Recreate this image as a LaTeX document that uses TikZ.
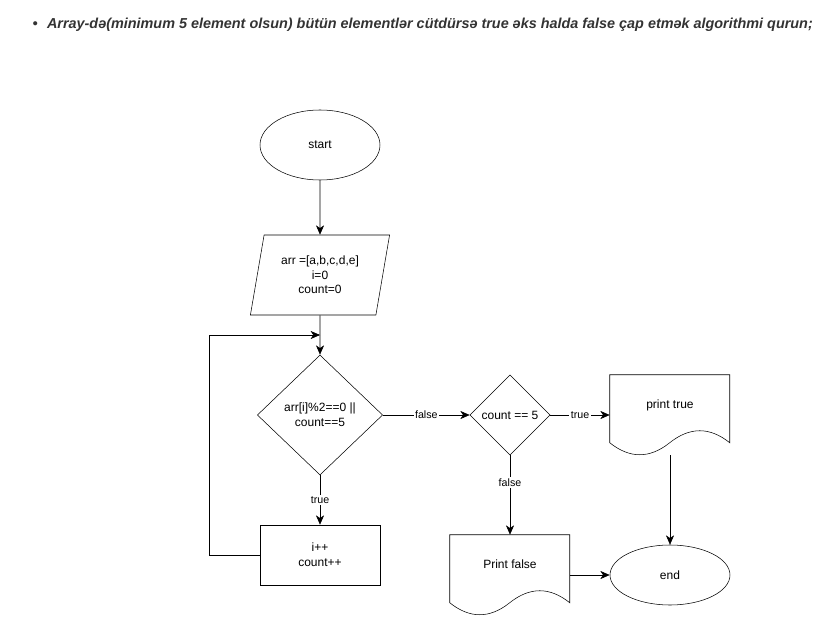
\documentclass[tikz,border=0pt]{standalone}
\usepackage{fontspec}
\setmainfont{Liberation Sans}
\usepackage{tikz}
\usetikzlibrary{arrows.meta}
\usetikzlibrary{shapes.geometric}
\usetikzlibrary{positioning}

% wavy bottom of a document box
\newcommand{\docshape}[1]{%
  \draw ([shift={(0,0)}]#1.north west) -- ([shift={(120,0)}]#1.north west)
    -- ([shift={(120,68)}]#1.north west)
    .. controls ([shift={(100,52)}]#1.north west) and ([shift={(80,52)}]#1.north west) .. ([shift={(60,68)}]#1.north west)
    .. controls ([shift={(40,84)}]#1.north west) and ([shift={(20,84)}]#1.north west) .. ([shift={(0,68)}]#1.north west)
    -- cycle;}

\begin{document}
\begin{tikzpicture}[x=0.75pt,y=-0.75pt,
    every node/.style={font=\fontsize{9}{11}\selectfont},
    term/.style={draw,ellipse,minimum width=90pt,minimum height=#1,inner sep=0pt},
    io/.style={draw,trapezium,trapezium left angle=76,trapezium right angle=104,
      trapezium stretches=true,minimum width=105pt,minimum height=60pt,inner sep=0pt,align=center},
    test/.style 2 args={draw,diamond,minimum width=#1,minimum height=#2,inner sep=0pt,align=center},
    stepbox/.style={draw,rectangle,minimum width=90pt,minimum height=45pt,align=center},
    docbox/.style={rectangle,minimum width=90pt,minimum height=60pt},
    lbl/.style={fill=white,inner sep=1pt,font=\fontsize{8}{10}\selectfont},
    line/.style={draw,-{Stealth[length=7pt,width=6pt,inset=2pt]}}]
  \useasboundingbox (0,0) rectangle (822,617);

  \node[font=\fontsize{10.8}{13}\selectfont\bfseries\itshape,text=black!80,anchor=west] (title) at (28,25)
    {\textbullet\hspace{7pt}Array-də(minimum 5 element olsun) bütün elementlər cütdürsə true əks halda false çap etmək algorithmi qurun;};

  \node[term=52.5pt] (start) at (320,145) {start};
  \node[io] (arr) at (320,275) {arr =[a,b,c,d,e]\\i=0\\count=0};
  \node[test={94pt}{90pt}] (cond) at (320,415) {arr[i]\%2==0 ||\\count==5};
  \node[stepbox] (inc) at (320,555) {i++\\count++};
  \node[test={60pt}{60pt}] (cnt) at (510,415) {count == 5};
  \node[docbox] (ptrue) at (670,415) {};
  \node[anchor=north] at ([yshift=-15pt]ptrue.north) {print true};
  \docshape{ptrue}
  \node[docbox] (pfalse) at (510,575) {};
  \node[anchor=north] at ([yshift=-15pt]pfalse.north) {Print false};
  \docshape{pfalse}
  \node[term=45pt] (end) at (670,575) {end};
  \coordinate (back) at (320,335);

  \draw[line] (start) -- (arr);
  \draw[line] (arr) -- (cond);
  \draw[line] (cond) -- node[lbl] {true} (inc);
  \draw[line] (inc.west) -- ++(-50,0) |- (back);
  \draw[line] (cond.east) -- node[lbl] {false} (cnt.west);
  \draw[line] (cnt.east) -- node[lbl] {true} (ptrue.west);
  \draw[line] (cnt.south) -- node[lbl,pos=0.34] {false} (pfalse.north);
  \draw[line] (ptrue.south) -- (end.north);
  \draw[line] (pfalse.east) -- (end.west);
\end{tikzpicture}
\end{document}
